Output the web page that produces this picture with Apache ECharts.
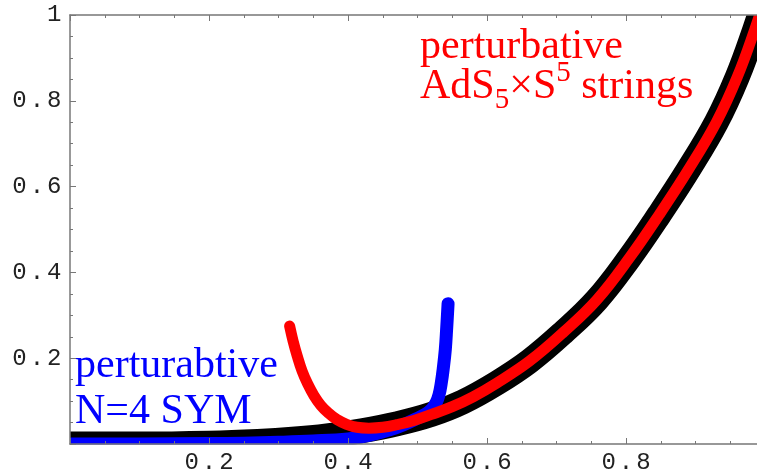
<!DOCTYPE html>
<html>
<head>
<meta charset="utf-8">
<script src="https://cdn.jsdelivr.net/npm/echarts@6/dist/echarts.min.js"></script>
<style>
  html, body { margin: 0; padding: 0; background: #fff; }
  #chart { width: 757px; height: 474px; }
</style>
</head>
<body>
<div id="chart"></div>
<script>
// exact curve (black)
const exactX = [0, 0.1, 0.2, 0.27, 0.32, 0.37, 0.42, 0.47, 0.52, 0.565, 0.614, 0.661, 0.709, 0.758, 0.805, 0.848, 0.89, 0.93, 0.96, 0.985, 1.0];
const exactY = [0.000, 0.000, 0.002, 0.006, 0.011, 0.019, 0.031, 0.047, 0.069, 0.098, 0.142, 0.193, 0.259, 0.336, 0.434, 0.535, 0.64, 0.75, 0.855, 0.965, 1.04];

// perturbative AdS5xS5 strings (red)
const strongX = [0.316, 0.321, 0.327, 0.334, 0.342, 0.351, 0.361, 0.372, 0.384, 0.398, 0.413, 0.43, 0.45, 0.47, 0.495, 0.52, 0.55, 0.58, 0.614, 0.661, 0.709, 0.758, 0.805, 0.848, 0.89, 0.93, 0.96, 0.985, 1.0];
const strongY = [0.275, 0.24, 0.205, 0.17, 0.14, 0.113, 0.09, 0.072, 0.057, 0.046, 0.039, 0.037, 0.039, 0.045, 0.055, 0.069, 0.087, 0.11, 0.142, 0.193, 0.259, 0.336, 0.434, 0.535, 0.64, 0.75, 0.855, 0.965, 1.04];

// perturbative N=4 SYM (blue)
const weakX = [0, 0.1, 0.2, 0.25, 0.3, 0.35, 0.4, 0.43, 0.46, 0.48, 0.50, 0.512, 0.521, 0.527, 0.531, 0.534, 0.537, 0.540, 0.542, 0.544];
const weakY = [0, 0.000, 0.001, 0.002, 0.004, 0.007, 0.012, 0.020, 0.033, 0.045, 0.060, 0.070, 0.082, 0.097, 0.115, 0.14, 0.175, 0.22, 0.27, 0.327];

const xTicks = ["0.2", "0.4", "0.6", "0.8"];
const yTicks = ["0.2", "0.4", "0.6", "0.8", "1"];

const zip = (xs, ys) => xs.map((x, i) => [x, ys[i]]);

const axisColor = "#777";

// Mathematica spaces its tick digits out a little, so each char is its own rich token
function tickFormatter(list) {
  return function (v) {
    const s = String(Number(v.toFixed(2)));
    if (list.indexOf(s) < 0) return "";
    return s.split("").map((c) => "{c|" + c + "}").join("");
  };
}
const tickRich = {
  c: { fontFamily: "Liberation Mono", fontSize: 24, lineHeight: 22, color: "#222", padding: [0, 1.5, 0, 1.5] },
};

const frameAxis = {
  type: "value",
  min: 0,
  max: 1,
  interval: 0.2,
  z: 100,
  axisLine: { show: true, onZero: false, lineStyle: { color: axisColor, width: 1.5 } },
  axisTick: { show: true, inside: true, length: 6, lineStyle: { color: axisColor } },
  minorTick: { show: true, splitNumber: 4, length: 3, lineStyle: { color: axisColor } },
  splitLine: { show: false },
  minorSplitLine: { show: false },
};

const serif = "'Liberation Serif'";

const chart = echarts.init(document.getElementById("chart"));

chart.setOption({
  animation: false,
  // frame runs a little past the right edge of the picture, like the original
  grid: { left: 70, top: 15, width: 695, height: 429, containLabel: false, outerBoundsMode: "none" },
  xAxis: [
    Object.assign({}, frameAxis, {
      position: "bottom",
      axisLabel: { margin: 8, formatter: tickFormatter(xTicks), rich: tickRich },
    }),
    Object.assign({}, frameAxis, {
      position: "top",
      axisLabel: { show: false },
    }),
  ],
  yAxis: Object.assign({}, frameAxis, {
    position: "left",
    axisLabel: { margin: 7, formatter: tickFormatter(yTicks), rich: tickRich },
  }),
  series: [
    {
      type: "line",
      data: zip(exactX, exactY),
      showSymbol: false,
      smooth: 0.4,
      lineStyle: { color: "#000", width: 25, join: "round" },
    },
    {
      type: "line",
      data: zip(weakX, weakY),
      showSymbol: false,
      smooth: 0.4,
      lineStyle: { color: "#0000ff", width: 13, cap: "round", join: "round" },
    },
    {
      type: "line",
      data: zip(strongX, strongY),
      showSymbol: false,
      smooth: 0.4,
      lineStyle: { color: "#ff0000", width: 11, cap: "round", join: "round" },
    },
  ],
  graphic: [
    // the line clip is padded by half the line width, so mask the outside of the frame
    { type: "rect", z: 50, silent: true, shape: { x: 0, y: 0, width: 757, height: 15 }, style: { fill: "#fff" } },
    { type: "rect", z: 50, silent: true, shape: { x: 0, y: 444.5, width: 757, height: 30 }, style: { fill: "#fff" } },
    { type: "rect", z: 50, silent: true, shape: { x: 0, y: 0, width: 70, height: 474 }, style: { fill: "#fff" } },
    {
      type: "text",
      z: 120,
      x: 420,
      y: 68,
      style: { text: "perturbative", font: "42px " + serif, fill: "#ff0000", verticalAlign: "bottom" },
    },
    {
      type: "text",
      z: 120,
      x: 420,
      y: 59,
      style: {
        text: "{m|AdS}{sub|5}{m|\u00d7S}{sup|5}{m| strings}",
        fill: "#ff0000",
        verticalAlign: "top",
        rich: {
          m: { fontFamily: serif, fontSize: 42, fill: "#ff0000", lineHeight: 56, verticalAlign: "middle" },
          sub: { fontFamily: serif, fontSize: 29, fill: "#ff0000", lineHeight: 18, verticalAlign: "bottom" },
          sup: { fontFamily: serif, fontSize: 29, fill: "#ff0000", lineHeight: 20, verticalAlign: "top" },
        },
      },
    },
    {
      type: "text",
      z: 120,
      x: 75,
      y: 387,
      style: { text: "perturabtive", font: "42px " + serif, fill: "#0000ff", verticalAlign: "bottom" },
    },
    {
      type: "text",
      z: 120,
      x: 75,
      y: 433,
      style: { text: "N=4 SYM", font: "42px " + serif, fill: "#0000ff", verticalAlign: "bottom" },
    },
  ],
});
</script>
</body>
</html>
